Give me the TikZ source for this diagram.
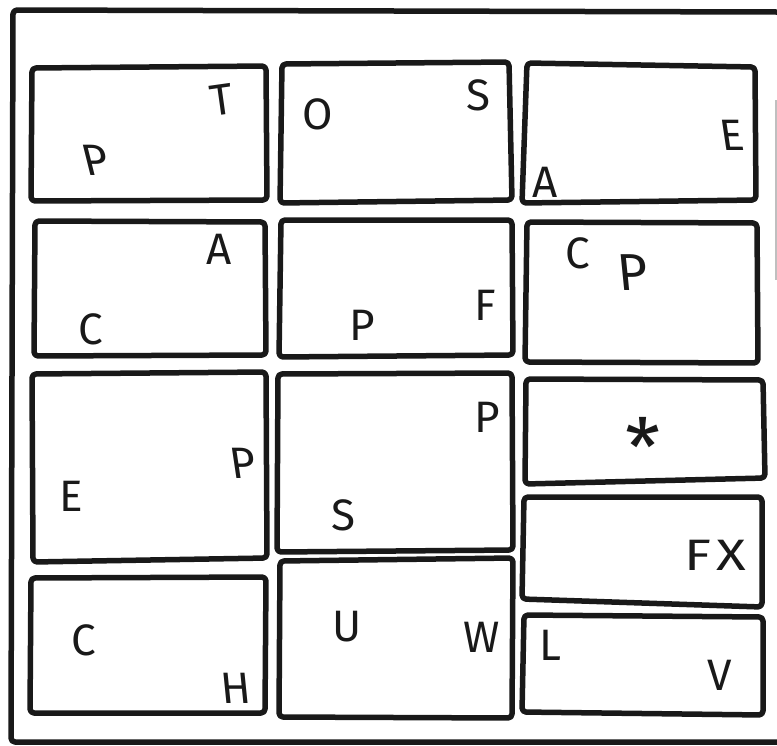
\documentclass[tikz,border=0pt]{standalone}
\usepackage{fontspec}
\setmainfont{Fira Sans}
\begin{document}
\begin{tikzpicture}[x=1pt,y=-1pt,
  boxline/.style={line width=5.5pt, rounded corners=4pt, line join=round, draw=black!90},
  lett/.style={font=\fontsize{44}{44}\selectfont, inner sep=0pt, text=black!90}]
\useasboundingbox (0,0) rectangle (777,745);
% outer frame (right edge lies at the picture's edge)
\draw[boxline] (777,12) -- (13,10) -- (11,742) -- (777,742);
\draw[line width=1.5pt, draw=black!25] (776,100) -- (776,280);
% column 1
\draw[boxline] (32,68) -- (266,66) -- (267,200) -- (31,201) -- cycle;
\draw[boxline] (35,221) -- (265,222) -- (266,355) -- (34,356) -- cycle;
\draw[boxline] (32,374) -- (266,372) -- (267,558) -- (33,562) -- cycle;
\draw[boxline] (31,578) -- (266,577) -- (265,713) -- (30,713) -- cycle;
% column 2
\draw[boxline] (282,64) -- (509,62) -- (512,200) -- (280,203) -- cycle;
\draw[boxline] (281,220) -- (512,220) -- (513,355) -- (279,357) -- cycle;
\draw[boxline] (278,374) -- (512,373) -- (513,550) -- (277,552) -- cycle;
\draw[boxline] (280,561) -- (513,558) -- (512,718) -- (279,717) -- cycle;
% column 3
\draw[boxline] (527,63) -- (755,67) -- (756,200) -- (522,203) -- cycle;
\draw[boxline] (527,222) -- (757,223) -- (758,363) -- (525,362) -- cycle;
\draw[boxline] (526,379) -- (763,380) -- (765,478) -- (525,484) -- cycle;
\draw[boxline] (524,497) -- (762,497) -- (762,607) -- (522,599) -- cycle;
\draw[boxline] (524,615) -- (763,617) -- (763,715) -- (522,712) -- cycle;
% letters
\node[lett, rotate=8] (t1) at (222,100) {T};
\node[lett, xslant=-0.25] (p1) at (95,160) {P};
\node[lett] (o1) at (318,114) {O};
\node[lett] (s1) at (478,95) {S};
\node[lett, xslant=-0.15] (e1) at (732,135) {E};
\node[lett] (a1) at (545,182) {A};
\node[lett] (a2) at (219,249) {A};
\node[lett] (c2) at (91,329) {C};
\node[lett] (p2) at (362,325) {P};
\node[lett] (f2) at (485,305) {F};
\node[lett] (c3) at (578,253) {C};
\node[lett, font=\fontsize{52}{52}\selectfont, xslant=-0.1] (p3) at (633,273) {P};
\node[lett, xslant=-0.15] (p4) at (243,463) {P};
\node[lett] (e4) at (71,496) {E};
\node[lett] (p5) at (487,417) {P};
\node[lett] (s5) at (343,515) {S};
\node[lett, font=\fontsize{80}{80}\selectfont] (st6) at (643,447) {*};
\node[lett] (c7) at (84,640) {C};
\node[lett, xslant=-0.1] (h7) at (236,688) {H};
\node[lett] (u8) at (347,627) {U};
\node[lett] (w8) at (482,637) {W};
\node[lett, xscale=1.25] (fx9) at (715,555) {F\kern4pt X};
\node[lett] (l10) at (550,645) {L};
\node[lett] (v10) at (720,675) {V};
\end{tikzpicture}
\end{document}
